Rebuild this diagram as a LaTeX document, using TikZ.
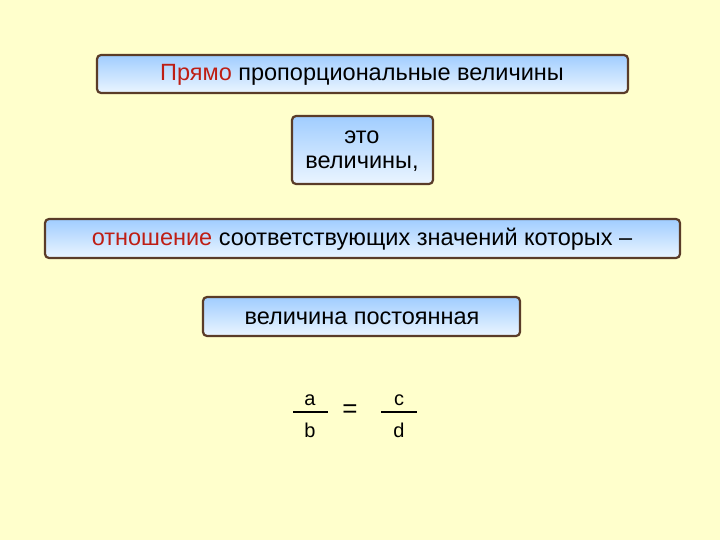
\documentclass[tikz,border=0pt]{standalone}
\usepackage{fontspec}
\setmainfont{Liberation Sans}
\begin{document}
\begin{tikzpicture}[x=1bp,y=-1bp,
  bx/.style={draw={rgb,255:red,90;green,60;blue,40},line width=2.2bp,rounded corners=4bp,
    top color={rgb,255:red,160;green,205;blue,255},bottom color={rgb,255:red,235;green,245;blue,255}},
  txt/.style={font=\fontsize{23.5bp}{25bp}\selectfont,align=center},
  fr/.style={font=\fontsize{20bp}{22bp}\selectfont}]
\definecolor{bg}{RGB}{255,255,204}
\definecolor{rd}{RGB}{190,30,20}
\fill[bg] (0,0) rectangle (720,540);
\useasboundingbox (0,0) rectangle (720,540);
\draw[bx] (97,55) rectangle (628,93);
\node[txt] (t1) at (362,75) {\textcolor{rd}{Прямо} пропорциональные величины};
\draw[bx] (292,116) rectangle (433,184);
\node[txt] (t2) at (362,151) {это\\величины,};
\draw[bx] (45,219) rectangle (680,258);
\node[txt] (t3) at (362,239) {\textcolor{rd}{отношение} соответствующих значений которых –};
\draw[bx] (203,297) rectangle (520,336);
\node[txt] (t4) at (362,318) {величина постоянная};
\node[fr] (a) at (310,400) {a};
\node[fr] (b) at (310,430) {b};
\node[fr] (c) at (399,400) {c};
\node[fr] (d) at (399,430) {d};
\node[font=\fontsize{26bp}{28bp}\selectfont] (eq) at (350,411) {=};
\draw[line width=1.5bp] (293,412) -- (328,412);
\draw[line width=1.5bp] (381,412) -- (417,412);
\end{tikzpicture}
\end{document}
